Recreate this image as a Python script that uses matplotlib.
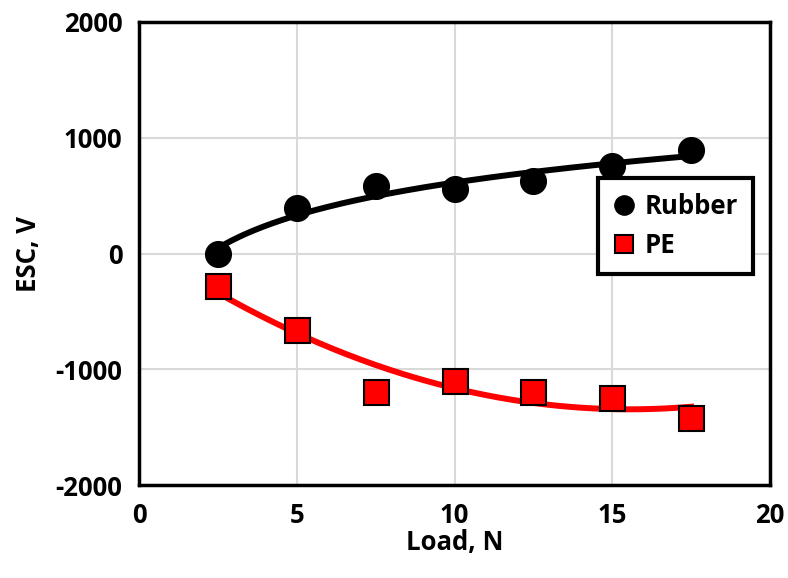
import numpy as np
import matplotlib
matplotlib.use("Agg")
import matplotlib.pyplot as plt

plt.rcParams['font.family'] = ['Open Sans', 'DejaVu Sans']
plt.rcParams['font.weight'] = 'bold'
plt.rcParams['axes.unicode_minus'] = False

load = [2.5, 5, 7.5, 10, 12.5, 15, 17.5]
rubber = [0, 390, 580, 560, 630, 760, 890]
pe = [-280, -665, -1200, -1100, -1200, -1250, -1420]

fig = plt.figure(figsize=(7.88, 5.78), dpi=100)
ax = fig.add_axes([139/788, 1-485/578, (770-139)/788, (485-22)/578])

xs = np.linspace(min(load), max(load), 200)
# logarithmic trendline for rubber
a, b = np.polyfit(np.log(load), rubber, 1)
ax.plot(xs, a*np.log(xs)+b, color='black', lw=4.3, zorder=3)
# polynomial trendline for PE
c = np.polyfit(load, pe, 2)
ax.plot(xs, np.polyval(c, xs), color='#ff0000', lw=4.3, zorder=3)

ax.plot(load, rubber, 'o', color='black', ms=18.5, label='Rubber', zorder=4)
ax.plot(load, pe, 's', color='#ff0000', mec='black', mew=1.5, ms=18, label='PE', zorder=4)

ax.set_xlim(0, 20)
ax.set_ylim(-2000, 2000)
ax.set_xticks([0, 5, 10, 15, 20])
ax.set_yticks([-2000, -1000, 0, 1000, 2000])
ax.grid(True, color='#d9d9d9', lw=1.5, zorder=0)
ax.set_axisbelow(True)
for s in ax.spines.values():
    s.set_linewidth(2.5)
    s.set_color('black')
ax.tick_params(length=0, labelsize=18.5, pad=12)
for lab in ax.get_xticklabels() + ax.get_yticklabels():
    lab.set_fontweight('bold')

ax.set_xlabel('Load, N', fontsize=18.5, fontweight='bold', labelpad=0)
ax.set_ylabel('ESC, V', fontsize=18.5, fontweight='bold', labelpad=10)

leg = ax.legend(loc='upper left', bbox_to_anchor=((598-139)/631, (485-178)/463),
                borderaxespad=0,
                fontsize=18.5, frameon=True, fancybox=False, markerscale=0.75,
                handlelength=0.8, handletextpad=0.4, borderpad=0.6, labelspacing=0.45,
                framealpha=1)
leg.get_frame().set_edgecolor('black')
leg.get_frame().set_linewidth(3)
for t in leg.get_texts():
    t.set_fontweight('bold')

fig.savefig('out.png', dpi=100)
